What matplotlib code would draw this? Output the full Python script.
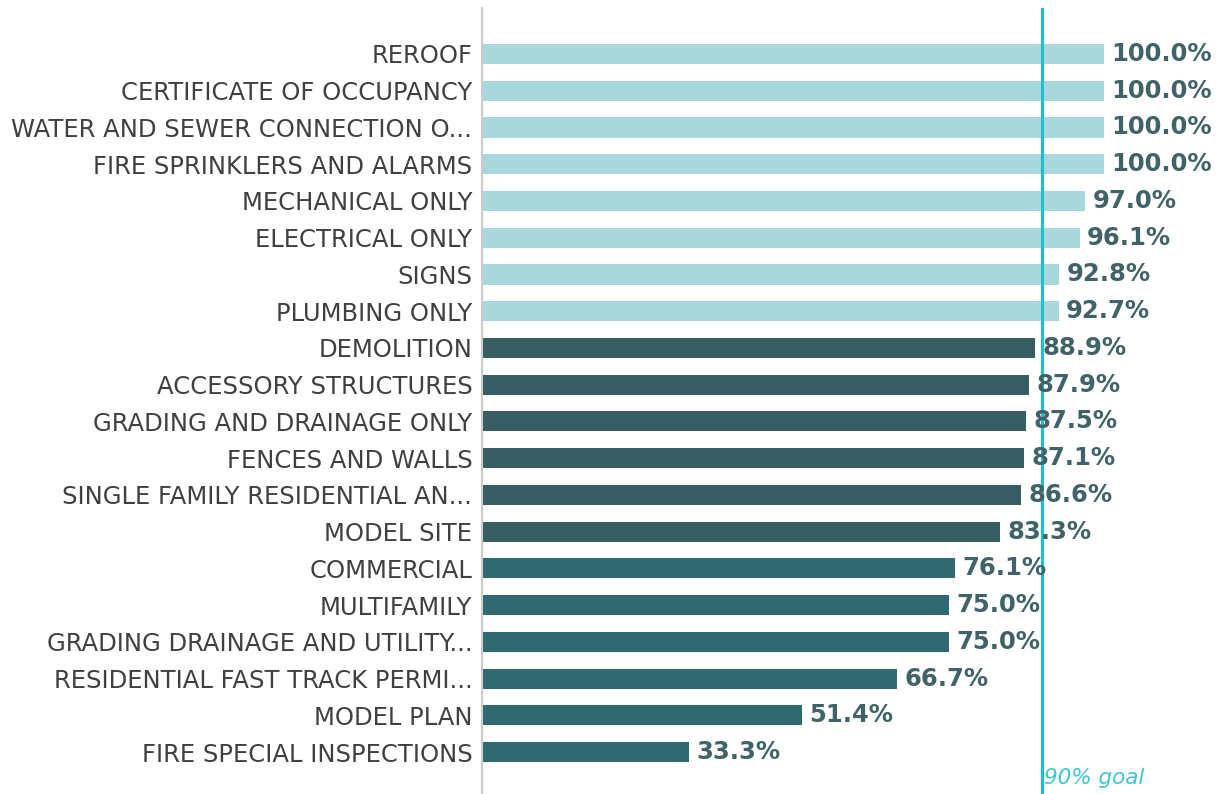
import matplotlib.pyplot as plt

categories = [
    "REROOF", "CERTIFICATE OF OCCUPANCY", "WATER AND SEWER CONNECTION O...",
    "FIRE SPRINKLERS AND ALARMS", "MECHANICAL ONLY", "ELECTRICAL ONLY", "SIGNS",
    "PLUMBING ONLY", "DEMOLITION", "ACCESSORY STRUCTURES", "GRADING AND DRAINAGE ONLY",
    "FENCES AND WALLS", "SINGLE FAMILY RESIDENTIAL AN...", "MODEL SITE", "COMMERCIAL",
    "MULTIFAMILY", "GRADING DRAINAGE AND UTILITY...", "RESIDENTIAL FAST TRACK PERMI...",
    "MODEL PLAN", "FIRE SPECIAL INSPECTIONS",
]
values = [100.0, 100.0, 100.0, 100.0, 97.0, 96.1, 92.8, 92.7, 88.9, 87.9, 87.5,
          87.1, 86.6, 83.3, 76.1, 75.0, 75.0, 66.7, 51.4, 33.3]
goal = 90


def bar_color(v):
    if v >= goal:
        return "#A8D8DC"
    if v >= 80:
        return "#375E62"
    return "#2E6A70"


fig = plt.figure(figsize=(12.19, 7.94), dpi=100)
ax = fig.add_axes([482 / 1219, 0.0, (1104 - 482) / 1219, 1 - 8 / 794])

ypos = list(range(len(categories)))
ax.barh(ypos, values, height=0.55, color=[bar_color(v) for v in values])

for y, v in zip(ypos, values):
    ax.text(v + 1.2, y, f"{v:.1f}%", va="center", ha="left", fontsize=17.5,
            fontweight="bold", color="#3F6367", clip_on=False)

ax.axvline(goal, color="#1DBFD1", linewidth=2.2)
ax.text(goal + 0.3, 19.7, "90% goal", fontsize=15.5, style="italic",
        color="#3CC6D6", va="center", ha="left")

ax.set_xlim(0, 100)
ax.set_ylim(20.14, -1.25)
ax.set_yticks(ypos)
ax.set_yticklabels(categories, fontsize=17.5, color="#404040")
ax.tick_params(axis="y", length=0, pad=7)
ax.set_xticks([])
for side in ["top", "right", "bottom"]:
    ax.spines[side].set_visible(False)
ax.spines["left"].set_color("#CCCCCC")
ax.spines["left"].set_linewidth(1.5)

fig.savefig("out.png", dpi=100)
